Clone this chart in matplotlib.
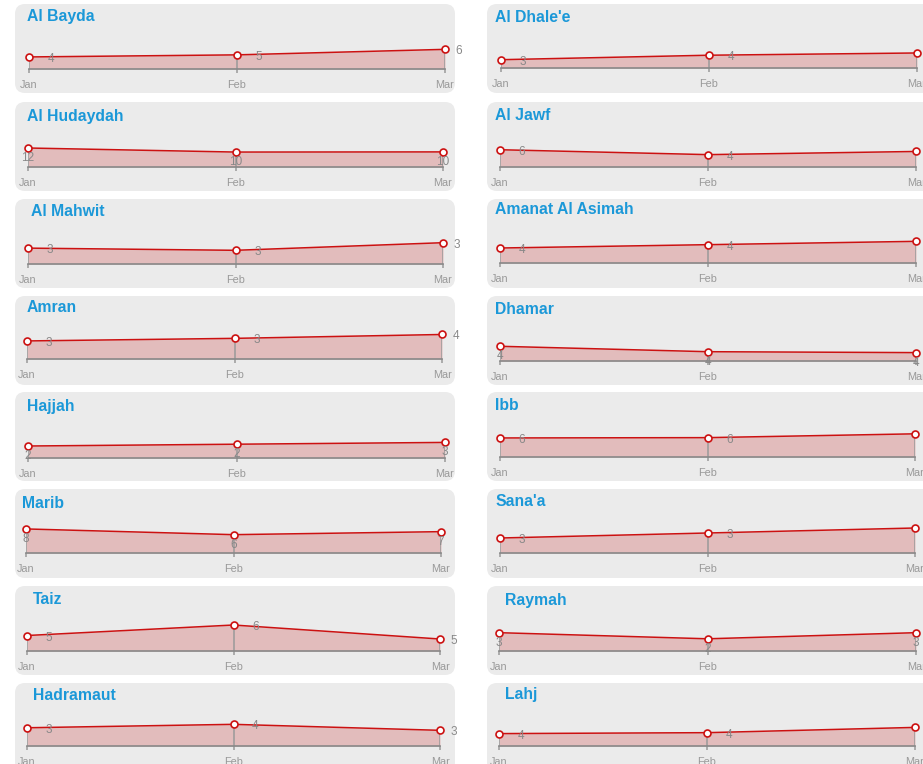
import matplotlib.pyplot as plt
from matplotlib.patches import FancyBboxPatch

plt.rcParams['font.family'] = ['Liberation Sans', 'DejaVu Sans']

regions = ['Al Bayda', "Al Dhale'e", 'Al Hudaydah', 'Al Jawf', 'Al Mahwit',
           'Amanat Al Asimah', 'Amran', 'Dhamar', 'Hajjah', 'Ibb', 'Marib',
           "Sana'a", 'Taiz', 'Raymah', 'Hadramaut', 'Lahj']
months = ['Jan', 'Feb', 'Mar']
values = [
    [4.2, 4.8, 6.4],
    [3.2, 4.4, 5.0],
    [12.2, 9.6, 9.7],
    [6.0, 4.3, 5.4],
    [2.9, 2.7, 3.4],
    [3.6, 4.4, 5.2],
    [2.8, 3.2, 3.8],
    [4.4, 3.8, 3.7],
    [2.0, 2.3, 2.6],
    [6.0, 6.1, 7.3],
    [8.0, 6.1, 7.1],
    [2.8, 3.3, 3.8],
    [5.1, 6.3, 4.7],
    [3.0, 2.0, 3.0],
    [3.2, 3.6, 2.9],
    [4.0, 4.3, 6.0],
]

# layout (pixels) - per panel
ylims = [(0.7, 12.3), (0.97, 11.7), (0, 25.7), (0, 13.9), (1.44, 5.12), (0, 9.6),
         (0, 6.2), (2.77, 7.2), (0, 6.67), (0, 12.6), (0, 13.3), (1.3, 5.3),
         (3.33, 7.9), (0, 6.55), (1.07, 5.74), (0, 12.9)]
label_mode = ['right', 'right', 'below', 'right', 'right', 'right', 'right', 'below',
              'below', 'right', 'below', 'right', 'right', 'below', 'right', 'right']
row_top = [4, 102, 199, 296, 392, 489, 586, 683]
base_y = [69, 68, 167, 167, 264, 263, 359, 361, 458, 457, 553, 553, 651, 651, 746, 746]
jan_x = [29, 501, 28, 500, 28, 500, 27, 500, 28, 500, 26, 500, 27, 499, 27, 499]
mar_x = [445, 917, 443, 916, 443, 916, 442, 916, 445, 915, 441, 915, 440, 916, 440, 915]
title_x = [27, 495, 27, 495, 31, 495, 27, 495, 27, 495, 22, 495, 33, 505, 33, 505]
title_dy = [13, 13, 14, 14, 13, 11, 11, 14, 14, 14, 15, 12, 13, 14, 12, 12]

W, H = 923, 764
fig = plt.figure(figsize=(W / 100, H / 100), dpi=100)
fig.patch.set_facecolor('white')

bg = fig.add_axes([0, 0, 1, 1])
bg.set_xlim(0, W)
bg.set_ylim(H, 0)
bg.axis('off')

red = '#cc1111'
for i, name in enumerate(regions):
    row, col = divmod(i, 2)
    top = row_top[row]
    x0, x1 = (15, 455) if col == 0 else (487, 940)
    bg.add_patch(FancyBboxPatch((x0, top), x1 - x0, 89,
                                boxstyle='round,pad=0,rounding_size=10',
                                fc='#ebebeb', ec='none'))
    bg.text(title_x[i], top + title_dy[i], name, color='#1b98d8', fontsize=11.3,
            fontweight='bold', ha='left', va='center')

    ph = 40
    ax = fig.add_axes([jan_x[i] / W, 1 - base_y[i] / H, (mar_x[i] - jan_x[i]) / W, ph / H])
    ax.set_facecolor('none')
    x = range(len(months))
    v = values[i]
    lo, hi = ylims[i]
    ax.set_xlim(0, 2)
    ax.set_ylim(lo, hi)
    ax.fill_between(x, v, lo, color='#c00000', alpha=0.2, lw=0)
    ax.vlines(x, lo, v, color='#999999', lw=1.1, zorder=2)
    ax.plot(x, v, color=red, lw=1.1, marker='o', ms=5, mfc='white', mec=red,
            mew=1.2, clip_on=False, zorder=4)
    for spine in ['top', 'left', 'right']:
        ax.spines[spine].set_visible(False)
    ax.spines['bottom'].set_color('#888888')
    ax.spines['bottom'].set_linewidth(1.2)
    ax.set_yticks([])
    ax.set_xticks(list(x))
    ax.set_xticklabels(months)
    ax.tick_params(axis='x', direction='out', length=3, width=1.1, color='#999999',
                   labelcolor='#999999', labelsize=7.8, pad=5)
    for j, val in enumerate(v):
        if label_mode[i] == 'right':
            off = (22, -2) if j < 2 else (14, -2)
        else:
            off = (0, -10)
        ax.annotate(f'{val:.0f}', (j, val), xytext=off, textcoords='offset pixels',
                    ha='center', va='center', color='#888888', fontsize=8.5,
                    annotation_clip=False, zorder=5)

fig.savefig('out.png', dpi=100)
